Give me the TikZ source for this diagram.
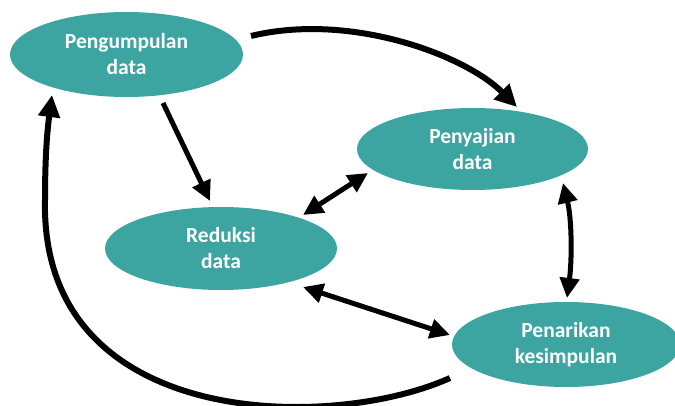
\documentclass[tikz,border=0pt]{standalone}
\usepackage{fontspec}
\setmainfont{Carlito}
\usetikzlibrary{arrows.meta,calc}
\definecolor{teal1}{RGB}{60,165,162}
\tikzset{
  blob/.style={ellipse, fill=teal1, draw=none, inner sep=0pt, text=white,
    align=center, font=\bfseries\fontsize{21.5}{26}\selectfont},
  arr/.style={line width=6pt, -{Triangle[length=22pt,width=21pt]}},
  arrb/.style={line width=5pt, {Triangle[length=20pt,width=19pt]}-{Triangle[length=20pt,width=19pt]}},
  arrs/.style={line width=5pt, -{Triangle[length=20pt,width=19pt]}}
}
\usetikzlibrary{shapes.geometric}
\begin{document}
\begin{tikzpicture}[x=1pt,y=-1pt]
\clip (0,0) rectangle (675,406);
\fill[white] (0,0) rectangle (675,406);
\node[blob, minimum width=233pt, minimum height=85pt] (pg) at (126.5,54.5) {Pengumpulan\\data};
\node[blob, minimum width=231pt, minimum height=82pt] (ps) at (472.5,149) {Penyajian\\data};
\node[blob, minimum width=232pt, minimum height=83pt] (rd) at (221,248.5) {Reduksi\\data};
\node[blob, minimum width=228pt, minimum height=85pt] (pk) at (566,344.5) {Penarikan\\kesimpulan};
% Pengumpulan -> Penyajian
\draw[arr] ($(pg)+(124.5,-18.5)$) .. controls +(99,-24) and +(-52,-52) .. ($(ps)+(44.5,-42)$);
% Pengumpulan -> Reduksi
\draw[arrs] ($(pg)+(36.5,48.5)$) -- ($(rd)+(-11,-47.5)$);
% Penyajian <-> Reduksi
\draw[arrb] ($(ps)+(-104.5,24)$) -- ($(rd)+(82,-33.5)$);
% Penyajian <-> Penarikan
\draw[arrb] ($(ps)+(90.5,34)$) .. controls +(9,37) and +(5,-38) .. ($(pk)+(1,-46.5)$);
% Reduksi <-> Penarikan
\draw[arrb] ($(rd)+(82,38.5)$) -- ($(pk)+(-116,-9.5)$);
% Penarikan -> Pengumpulan
\coordinate (lw) at ($(rd)+(-176,-48.5)$);
\draw[arr] ($(pk)+(-116,33.5)$) .. controls +(-120,54) and +(-5,230) .. (lw)
  .. controls +(0,-50) and +(-4,30) .. ($(pg)+(-74.5,40.5)$);
\end{tikzpicture}
\end{document}
